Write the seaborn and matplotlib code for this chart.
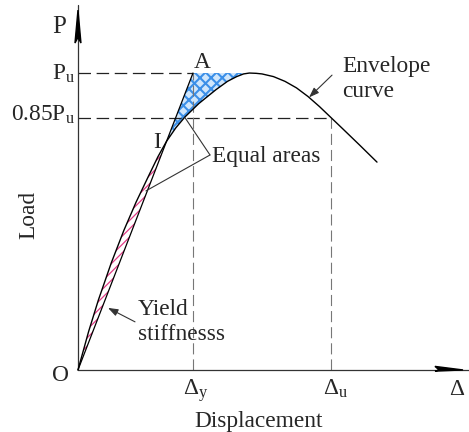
import matplotlib
matplotlib.use("Agg")
import matplotlib.pyplot as plt
import numpy as np
import pandas as pd
import seaborn as sns

# Envelope (skeleton) curve, displacement normalised by the yield displacement,
# load normalised by the peak load Pu
disp = [0.0, 0.093, 0.177, 0.289, 0.399, 0.505, 0.616, 0.695, 0.77, 0.85, 0.93,
        1.05, 1.20, 1.30, 1.38, 1.44, 1.49, 1.55, 1.60, 1.70, 1.80, 1.90,
        2.00, 2.10, 2.20, 2.30, 2.45, 2.60]
load = [0.0, 0.13, 0.235, 0.36, 0.47, 0.565, 0.655, 0.718, 0.77, 0.815, 0.852,
        0.897, 0.944, 0.972, 0.988, 0.997, 1.0, 0.999, 0.997, 0.988, 0.972, 0.950,
        0.921, 0.887, 0.85, 0.813, 0.757, 0.70]

# characteristic values
p_u = 1.0
p_85 = 0.85
delta_y = 1.0
delta_u = 2.20
yield_idx = 8      # point I on the curve
peak_idx = 16      # peak of the curve

sns.set_theme(style="white")
plt.rcParams["font.family"] = ["Liberation Serif", "DejaVu Serif"]
plt.rcParams["mathtext.fontset"] = "custom"
plt.rcParams["mathtext.rm"] = "Liberation Serif"
plt.rcParams["mathtext.it"] = "Liberation Serif:italic"

fig = plt.figure(figsize=(4.69, 4.32), dpi=100)
ax = fig.add_axes([0, 0, 1, 1])

df = pd.DataFrame({"Displacement": disp, "Load": load})

# equal-area regions
xs = np.array(disp)
ys = np.array(load)
with plt.rc_context({"hatch.linewidth": 0.9}):
    ax.fill(xs[:yield_idx + 1], ys[:yield_idx + 1], facecolor="white",
            edgecolor="#e03c86", hatch="////", linewidth=0, zorder=1)
with plt.rc_context({"hatch.linewidth": 1.5}):
    bx = list(xs[yield_idx:peak_idx + 1]) + [delta_y]
    by = list(ys[yield_idx:peak_idx + 1]) + [p_u]
    ax.fill(bx, by, facecolor="#cfe6fc", edgecolor="#3b8fe8", hatch="xxx",
            linewidth=0, zorder=1)

# reference dashed lines
dash = dict(color="#222222", lw=0.9, dashes=(10, 4.5), zorder=2)
ax.plot([0, delta_y], [p_u, p_u], **dash)
ax.plot([0, delta_u], [p_85, p_85], **dash)
vdash = dict(color="#777777", lw=0.8, dashes=(10, 4.5), zorder=2)
ax.plot([delta_y, delta_y], [0, p_u], **vdash)
ax.plot([delta_u, delta_u], [0, p_85], **vdash)

# secant (yield stiffness) line through I up to A
ax.plot([0, delta_y], [0, p_u], color="black", lw=0.9, zorder=3)

# envelope curve
sns.lineplot(data=df, x="Displacement", y="Load", sort=False, estimator=None,
             color="black", lw=1.0, ax=ax, zorder=4)
ax.set_xlim(-0.678, 3.4)
ax.set_ylim(-0.209, 1.246)
ax.axis("off")

# coordinate axes with arrowheads
ax.plot([0, 3.4], [0, 0], color="#333333", lw=0.9, zorder=3)
ax.plot([0, 0], [0, 1.23], color="#333333", lw=0.9, zorder=3)
ax.fill([3.104, 3.348, 3.104, 3.14], [0.012, 0, -0.004, 0.0], color="black", zorder=4)
ax.fill([-0.026, 0, 0.026, 0], [1.101, 1.212, 1.101, 1.12], color="black", zorder=4)

fs = 16.8
ax.text(-0.165, 1.155, "P", fontsize=18, ha="center", va="center")
ax.text(-0.026, 0.976, r"P$_\mathrm{u}$", fontsize=fs, ha="right", va="baseline")
ax.text(-0.026, 0.838, r"0.85P$_\mathrm{u}$", fontsize=fs, ha="right", va="baseline")
ax.text(1.078, 1.017, "A", fontsize=fs, ha="center", va="baseline")
ax.text(0.687, 0.747, "I", fontsize=fs, ha="center", va="baseline")
ax.text(-0.148, -0.02, "O", fontsize=fs, ha="center", va="center")
ax.text(1.02, -0.084, r"$\Delta_\mathrm{y}$", fontsize=fs, ha="center", va="baseline")
ax.text(2.243, -0.084, r"$\Delta_\mathrm{u}$", fontsize=fs, ha="center", va="baseline")
ax.text(3.30, -0.084, r"$\Delta$", fontsize=fs, ha="center", va="baseline")
ax.text(1.574, -0.192, "Displacement", fontsize=fs, ha="center", va="baseline")
ax.text(-0.426, 0.522, "Load", fontsize=fs, ha="center", va="center", rotation=90)

# annotations
ax.text(1.165, 0.70, "Equal areas", fontsize=fs, ha="left", va="baseline")
lead = dict(color="#333333", lw=0.8, zorder=5)
ax.plot([1.148, 0.93], [0.724, 0.850], **lead)
ax.plot([1.148, 0.591], [0.724, 0.603], **lead)

ax.text(2.296, 1.003, "Envelope", fontsize=fs, ha="left", va="baseline")
ax.text(2.296, 0.919, "curve", fontsize=fs, ha="left", va="baseline")
ax.annotate("", xy=(2.009, 0.918), xytext=(2.209, 0.993),
            arrowprops=dict(arrowstyle="-|>,head_length=0.5,head_width=0.18",
                            color="#333333", lw=0.8, shrinkA=0, shrinkB=0))

ax.text(0.522, 0.185, "Yield", fontsize=fs, ha="left", va="baseline")
ax.text(0.522, 0.101, "stiffnesss", fontsize=fs, ha="left", va="baseline")
ax.annotate("", xy=(0.261, 0.209), xytext=(0.496, 0.162),
            arrowprops=dict(arrowstyle="-|>,head_length=0.5,head_width=0.18",
                            color="#333333", lw=0.8, shrinkA=0, shrinkB=0))

fig.savefig("out.png", dpi=100)
